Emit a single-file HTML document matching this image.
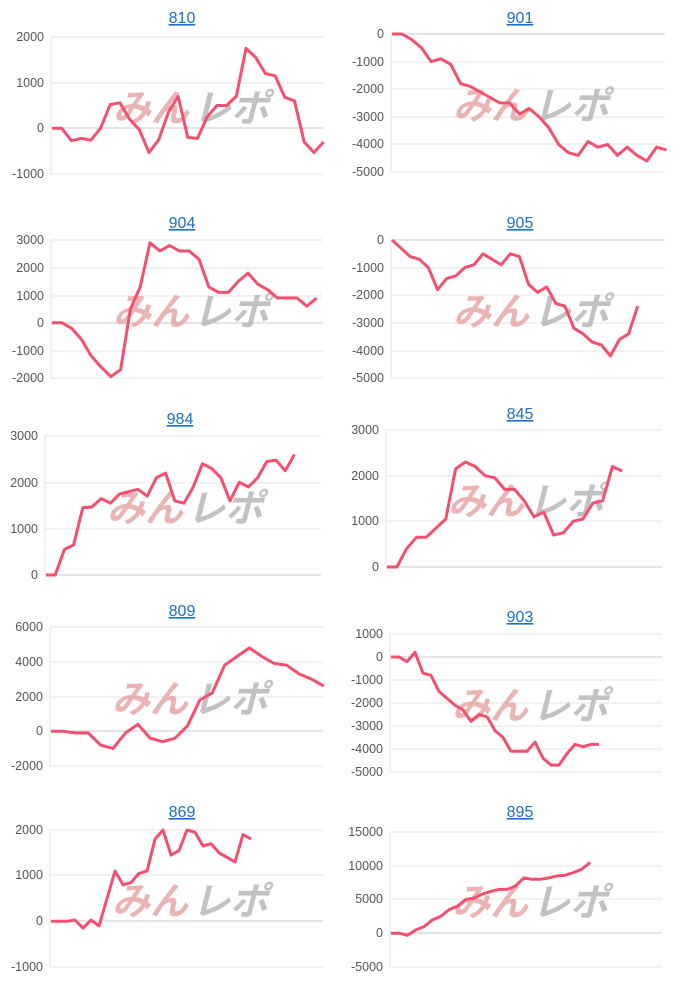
<!DOCTYPE html>
<html><head><meta charset="utf-8"><style>
body{margin:0;background:#fff;width:680px;height:989px;overflow:hidden}
svg{display:block}
</style></head><body>
<svg id="s" width="680" height="989" xmlns="http://www.w3.org/2000/svg" font-family="Liberation Sans, Noto Sans CJK JP, sans-serif"></svg>
<script>
const C=[
{t:"810",cx:182,ty:17,x0:51,xe:323,ticks:[[2000,37],[1000,83],[0,128],[-1000,174]],step:9.7,
d:[0,0,-270,-220,-260,0,520,560,200,-30,-530,-250,350,700,-200,-220,250,500,500,700,1750,1550,1200,1150,680,600,-300,-530,-300]},
{t:"901",cx:520,ty:17,x0:391,xe:665,ticks:[[0,34],[-1000,62],[-2000,89],[-3000,117],[-4000,144],[-5000,172]],step:9.8,
d:[0,0,-200,-500,-1000,-900,-1100,-1800,-1900,-2100,-2300,-2500,-2500,-2900,-2700,-3000,-3400,-4000,-4300,-4400,-3900,-4100,-4000,-4400,-4100,-4400,-4600,-4100,-4200]},
{t:"904",cx:182,ty:222,x0:51,xe:323,ticks:[[3000,240],[2000,268],[1000,296],[0,323],[-1000,351],[-2000,378]],step:9.8,
d:[0,0,-200,-600,-1200,-1600,-1950,-1700,500,1300,2900,2600,2800,2600,2600,2300,1300,1100,1100,1500,1800,1400,1200,900,900,900,600,900]},
{t:"905",cx:520,ty:222,x0:391,xe:665,ticks:[[0,240],[-1000,268],[-2000,295],[-3000,323],[-4000,351],[-5000,378]],step:9.1,
d:[0,-300,-600,-700,-1000,-1800,-1400,-1300,-1000,-900,-500,-700,-900,-500,-600,-1600,-1900,-1700,-2300,-2400,-3200,-3400,-3700,-3800,-4200,-3600,-3400,-2400]},
{t:"984",cx:180,ty:418,x0:45,xe:321,ticks:[[3000,436],[2000,483],[1000,529],[0,575]],step:9.2,
d:[0,0,550,650,1450,1470,1650,1550,1750,1800,1850,1700,2100,2200,1600,1550,1900,2400,2300,2100,1600,2000,1900,2100,2450,2480,2250,2600]},
{t:"845",cx:520,ty:413,x0:386,xe:662,ticks:[[3000,430],[2000,476],[1000,521],[0,567]],step:9.8,
d:[0,0,400,650,650,850,1050,2150,2300,2200,2000,1950,1700,1700,1450,1100,1200,700,750,1000,1050,1400,1450,2200,2100]},
{t:"809",cx:182,ty:610,x0:50,xe:323,ticks:[[6000,627],[4000,662],[2000,697],[0,731],[-2000,766]],step:12.4,
d:[0,0,-100,-100,-800,-1000,-100,400,-400,-600,-400,300,1800,2200,3800,4300,4800,4300,3900,3800,3300,3000,2600]},
{t:"903",cx:520,ty:616,x0:390,xe:662,ticks:[[1000,634],[0,657],[-1000,680],[-2000,703],[-3000,726],[-4000,749],[-5000,772]],step:8,
d:[0,0,-200,200,-700,-800,-1500,-1800,-2100,-2300,-2800,-2500,-2600,-3200,-3500,-4100,-4100,-4100,-3700,-4400,-4700,-4700,-4200,-3800,-3900,-3800,-3800]},
{t:"869",cx:182,ty:811,x0:50,xe:323,ticks:[[2000,830],[1000,875],[0,921],[-1000,967]],step:8,
d:[0,0,0,30,-150,30,-100,500,1100,800,850,1050,1100,1800,2000,1450,1550,2000,1950,1650,1700,1500,1400,1300,1900,1800]},
{t:"895",cx:520,ty:811,x0:390,xe:662,ticks:[[15000,832],[10000,866],[5000,899],[0,933],[-5000,967]],step:8.3,
d:[0,0,-300,500,1000,2000,2500,3500,4000,5000,5200,5800,6200,6500,6500,7000,8200,8000,8000,8200,8500,8600,9000,9500,10500]}
];
let h="";
for(const c of C){
 h+=`<text x="${c.cx}" y="${c.ty+6}" text-anchor="middle" font-size="16" fill="#1a6fc9" text-decoration="underline">${c.t}</text>`;
 const tk=c.ticks, v0=tk[0][0],y0=tk[0][1],v1=tk[tk.length-1][0],y1=tk[tk.length-1][1];
 const Y=v=>y0+(v-v0)*(y1-y0)/(v1-v0);
 for(const [v,y] of tk){
  h+=`<line x1="${c.x0}" x2="${c.xe}" y1="${y}" y2="${y}" stroke="${v==0?'#c8c8c8':'#e4e4e4'}" stroke-width="1"/>`;
  h+=`<text x="${c.x0-7}" y="${y+4}" text-anchor="end" font-size="12.5" fill="#555">${v}</text>`;
 }
 h+=`<line x1="${c.x0}" x2="${c.x0}" y1="${y0}" y2="${y1}" stroke="#e4e4e4"/>`;
 const wy=(y0+y1)/2+16, wx=c.x0+62;
 h+=`<text x="${wx}" y="${wy}" font-size="38" font-weight="bold" font-style="italic" fill="#e8a8a8" opacity="0.85">みん</text>`;
 h+=`<text x="${wx+80}" y="${wy}" font-size="38" font-weight="bold" font-style="italic" fill="#b8b8b8" opacity="0.85">レポ</text>`;
 const pts=c.d.map((v,i)=>`${(c.x0+1+i*c.step).toFixed(1)},${Y(v).toFixed(1)}`).join(" ");
 h+=`<polyline points="${pts}" fill="none" stroke="#f2506e" stroke-width="3" stroke-linejoin="round"/>`;
}
document.getElementById("s").innerHTML=h;
</script>
</body></html>
